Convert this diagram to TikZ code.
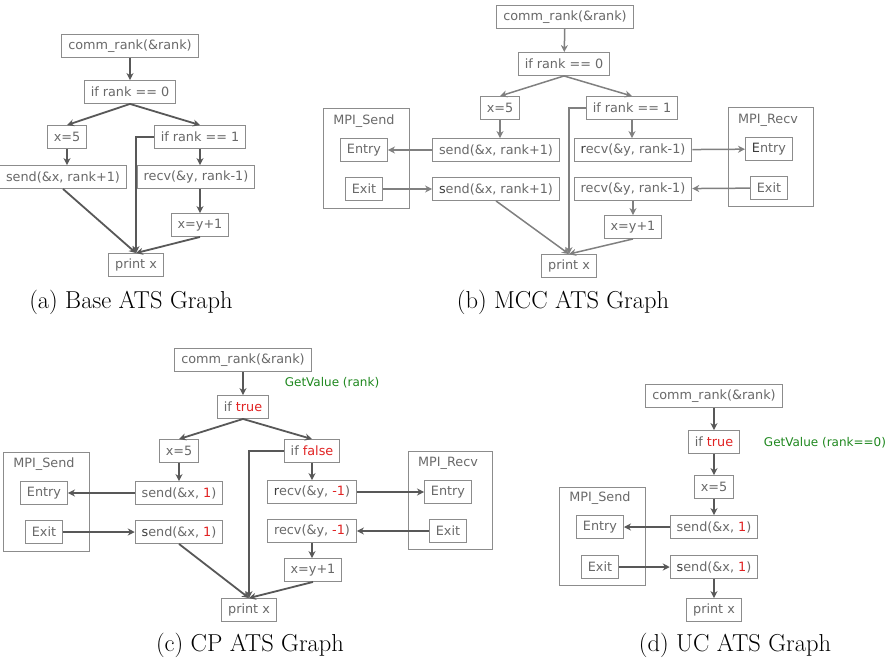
\documentclass[tikz,border=0pt]{standalone}
\usepackage{fontspec}
\usepackage{xcolor}
\newfontfamily\boxfont{DejaVu Sans}
\usetikzlibrary{arrows.meta}

\definecolor{boxgray}{RGB}{140,140,140}
\definecolor{txtgray}{RGB}{105,105,105}
\definecolor{inkgray}{RGB}{60,60,60}
\definecolor{arrgray}{RGB}{88,88,88}
\definecolor{softgray}{RGB}{128,128,128}
\definecolor{valred}{RGB}{225,35,35}
\definecolor{valgreen}{RGB}{30,135,30}
\newcommand{\val}[1]{\textcolor{valred}{#1}}
\newcommand{\ink}[1]{\textcolor{inkgray}{#1}}

\begin{document}
\begin{tikzpicture}[x=1pt, y=-1pt,
    stmt/.style={draw=boxgray, line width=0.9pt, fill=white, text=txtgray,
      font=\boxfont\fontsize{12.8}{14}\selectfont, inner xsep=6.5pt, inner ysep=0pt,
      minimum height=23pt},
    group/.style={draw=boxgray, line width=0.9pt},
    grouplbl/.style={text=txtgray, font=\boxfont\fontsize{12.8}{14}\selectfont},
    hint/.style={text=valgreen, font=\boxfont\fontsize{12}{14}\selectfont},
    flow/.style={-{Stealth[length=7pt,width=7pt]}, line width=1.8pt, draw=arrgray},
    soft/.style={flow, line width=1.5pt, draw=softgray},
    caption/.style={font=\fontsize{24.5}{28}\selectfont}]
  \useasboundingbox (0,0) rectangle (891,661);

  % Graph (a)
  \node[stmt] (a-comm) at (130,46) {comm\_rank(\&rank)};
  \node[stmt] (a-if0) at (130,92) {if rank == 0};
  \node[stmt] (a-x5) at (67,137) {x=5};
  \node[stmt] (a-if1) at (200,137) {if rank == 1};
  \node[stmt] (a-send) at (63,177) {send(\&x, rank+1)};
  \node[stmt] (a-recv) at (196,177) {recv(\&y, rank-1)};
  \node[stmt] (a-xy1) at (200,225) {x=y+1};
  \node[stmt] (a-print) at (136,265) {print x};
  \draw[flow] (a-comm) -- (a-if0);
  \draw[flow] (a-if0.south) -- (a-x5.north);
  \draw[flow] (a-if0.south) -- (a-if1.north);
  \draw[flow] (a-x5.south) -- (a-x5.south |- a-send.north);
  \draw[flow] (a-if1.south) -- (a-if1.south |- a-recv.north);
  \draw[flow] (a-xy1.north |- a-recv.south) -- (a-xy1.north);
  \draw[flow] (a-if1.west) -| (a-print.north);
  \draw[flow] (a-send.south) -- (a-print.north);
  \draw[flow] (a-xy1.south) -- (a-print.north);
  \node[caption] (a-cap) at (131,302) {(a) Base ATS Graph};

  % Graph (b)
  \node[group, minimum width=86pt, minimum height=100pt] (b-mpis) at (366,158) {};
  \node[grouplbl] (b-mpis-lbl) at (364,121) {MPI\_Send};
  \node[group, minimum width=85pt, minimum height=99pt] (b-mpir) at (770.5,156.5) {};
  \node[grouplbl] (b-mpir-lbl) at (768,120) {MPI\_Recv};
  \node[stmt] (b-comm) at (565,17) {comm\_rank(\&rank)};
  \node[stmt] (b-if0) at (564,64) {if rank == 0};
  \node[stmt] (b-x5) at (500,108) {x=5};
  \node[stmt] (b-if1) at (632,108) {if rank == 1};
  \node[stmt] (b-sendin) at (496,150) {send(\&x, rank+1)};
  \node[stmt] (b-sendout) at (496,189) {\ink{s}end(\&x, rank+1)};
  \node[stmt] (b-recvin) at (633,150) {\ink{r}ecv(\&y, rank-1)};
  \node[stmt] (b-recvout) at (633,189) {recv(\&y, rank-1)};
  \node[stmt] (b-xy1) at (633,227) {x=y+1};
  \node[stmt] (b-print) at (569,266) {print x};
  \node[stmt] (b-sentry) at (364,150) {Entry};
  \node[stmt] (b-sexit) at (364,189) {Exit};
  \node[stmt] (b-rentry) at (769,149) {\ink{E}ntry};
  \node[stmt] (b-rexit) at (769,188) {Exit};
  \draw[soft] (b-comm) -- (b-if0);
  \draw[soft] (b-if0.south) -- (b-x5.north);
  \draw[soft] (b-if0.south) -- (b-if1.north);
  \draw[soft] (b-x5.south) -- (b-x5.south |- b-sendin.north);
  \draw[soft] (b-if1.south) -- (b-if1.south |- b-recvin.north);
  \draw[soft] (b-recvout.south) -- (b-recvout.south |- b-xy1.north);
  \draw[soft] (b-sendin) -- (b-sentry);
  \draw[soft] (b-sexit) -- (b-sendout);
  \draw[soft] (b-recvin) -- (b-rentry);
  \draw[soft] (b-rexit) -- (b-recvout);
  \draw[soft] (b-if1.west) -| (b-print.north);
  \draw[soft] (b-sendout.south) -- (b-print.north);
  \draw[soft] (b-xy1.south) -- (b-print.north);
  \node[caption] (b-cap) at (563,302) {(b) MCC ATS Graph};

  % Graph (c)
  \node[group, minimum width=86pt, minimum height=99pt] (c-mpis) at (46,501.5) {};
  \node[grouplbl] (c-mpis-lbl) at (44,464) {MPI\_Send};
  \node[group, minimum width=84pt, minimum height=98pt] (c-mpir) at (450,500) {};
  \node[grouplbl] (c-mpir-lbl) at (448,463) {MPI\_Recv};
  \node[stmt] (c-comm) at (243,360) {comm\_rank(\&rank)};
  \node[hint] (c-hint) at (332,383) {GetValue (rank)};
  \node[stmt] (c-if0) at (243,407) {if \val{true}};
  \node[stmt] (c-x5) at (179,451) {x=5};
  \node[stmt] (c-if1) at (312,451) {if \val{false}};
  \node[stmt] (c-sendin) at (179,493) {send(\&x, \val{1})};
  \node[stmt] (c-sendout) at (179,532) {\ink{s}end(\&x, \val{1})};
  \node[stmt] (c-recvin) at (312,492) {\ink{r}ecv(\&y, \val{-1})};
  \node[stmt] (c-recvout) at (312,531) {recv(\&y, \val{-1})};
  \node[stmt] (c-xy1) at (313,570) {x=y+1};
  \node[stmt] (c-print) at (249,610) {print x};
  \node[stmt] (c-sentry) at (44,493) {Entry};
  \node[stmt] (c-sexit) at (44,532) {Exit};
  \node[stmt] (c-rentry) at (448,492) {Entry};
  \node[stmt] (c-rexit) at (448,531) {Exit};
  \draw[flow] (c-comm) -- (c-if0);
  \draw[flow] (c-if0.south) -- (c-x5.north);
  \draw[flow] (c-if0.south) -- (c-if1.north);
  \draw[flow] (c-x5.south) -- (c-x5.south |- c-sendin.north);
  \draw[flow] (c-if1.south) -- (c-if1.south |- c-recvin.north);
  \draw[flow] (c-recvout.south) -- (c-recvout.south |- c-xy1.north);
  \draw[flow] (c-sendin) -- (c-sentry);
  \draw[flow] (c-sexit) -- (c-sendout);
  \draw[flow] (c-recvin) -- (c-rentry);
  \draw[flow] (c-rexit) -- (c-recvout);
  \draw[flow] (c-if1.west) -| (c-print.north);
  \draw[flow] (c-sendout.south) -- (c-print.north);
  \draw[flow] (c-xy1.south) -- (c-print.north);
  \node[caption] (c-cap) at (250,645) {(c) CP ATS Graph};

  % Graph (d)
  \node[group, minimum width=86pt, minimum height=98pt] (d-mpis) at (602,536) {};
  \node[grouplbl] (d-mpis-lbl) at (600,498) {MPI\_Send};
  \node[stmt] (d-comm) at (714,396) {comm\_rank(\&rank)};
  \node[stmt] (d-if0) at (714,442) {if \val{true}};
  \node[hint] (d-hint) at (825,443) {GetValue (rank==0)};
  \node[stmt] (d-x5) at (714,487) {x=5};
  \node[stmt] (d-sendin) at (714,527) {send(\&x, \val{1})};
  \node[stmt] (d-sendout) at (714,567) {\ink{s}end(\&x, \val{1})};
  \node[stmt] (d-print) at (714,610) {print x};
  \node[stmt] (d-sentry) at (600,527) {Entry};
  \node[stmt] (d-sexit) at (600,567) {Exit};
  \draw[flow] (d-comm) -- (d-if0);
  \draw[flow] (d-if0) -- (d-x5);
  \draw[flow] (d-x5) -- (d-sendin);
  \draw[flow] (d-sendin) -- (d-sentry);
  \draw[flow] (d-sexit) -- (d-sendout);
  \draw[flow] (d-sendout) -- (d-print);
  \node[caption] (d-cap) at (735,645) {(d) UC ATS Graph};
\end{tikzpicture}
\end{document}
